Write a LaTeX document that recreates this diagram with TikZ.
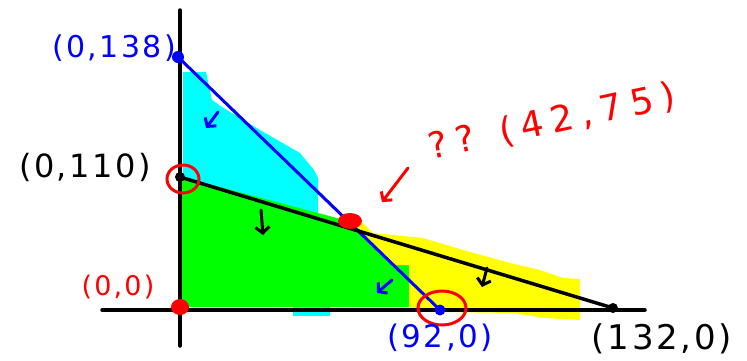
\documentclass[tikz,border=0pt]{standalone}
\usepackage{fontspec}
\newfontfamily\hand[LetterSpace=8]{DejaVu Sans}
\usetikzlibrary{arrows.meta}
\definecolor{fillcyan}{RGB}{0,255,255}
\definecolor{fillgreen}{RGB}{0,255,0}
\definecolor{fillyellow}{RGB}{255,255,0}
\definecolor{inkblue}{RGB}{0,0,255}
\definecolor{inkred}{RGB}{255,0,0}

\begin{document}
\begin{tikzpicture}[x=1pt, y=-1pt,
	ink/.style={line width=3pt, line cap=round},
	barb/.style={ink, -{Straight Barb[length=6pt, width=14pt]}},
	hw/.style={inner sep=0pt, font=\hand\fontsize{#1}{#1}\selectfont}]
	\useasboundingbox (0,0) rectangle (747,360);

	% --- Points ---
	\coordinate (ytop) at (180,10);
	\coordinate (ybot) at (180,346);
	\coordinate (xleft) at (102,310);
	\coordinate (xright) at (645,310);
	\coordinate (p138) at (178,57);
	\coordinate (p110) at (180,177);
	\coordinate (p0) at (180,307);
	\coordinate (pcut) at (350,221);
	\coordinate (p92) at (440,310);
	\coordinate (p132) at (613,308);

	% --- Shaded regions ---
	% cyan (blue constraint)
	\fill[fillcyan] (183,72) -- (206,72) -- (212,100) -- (222,107) -- (260,130) -- (300,153)
		-- (314,170) -- (318,178) -- (318,215) -- (183,178) -- cycle;
	\fill[fillcyan] (293,304) rectangle (409,307);
	\fill[fillcyan] (293,307) rectangle (330,316);
	% green (both constraints)
	\fill[fillgreen] (182,177) -- (352,222) -- (395,265) -- (409,265) -- (409,307) -- (182,307) -- cycle;
	% yellow (black constraint)
	\fill[fillyellow] (352,221) -- (362,222) -- (373,233) -- (423,238) -- (463,250) -- (510,263)
		-- (540,270) -- (563,278) -- (580,279) -- (580,320) -- (545,318) -- (512,313)
		-- (440,312) -- (409,307) -- (409,265) -- (395,265) -- cycle;

	% --- Axes ---
	\draw[ink, line width=3.5pt] (ytop) -- (ybot);
	\draw[ink, line width=3.5pt] (xleft) -- (xright);

	% --- Constraint lines ---
	\draw[ink, inkblue] (p138) -- (p92);
	\draw[ink, line width=3.5pt] (p110) -- (p132);

	% --- Direction arrows ---
	\draw[barb, inkblue] (218,112) -- (206,128);
	\draw[barb] (261,210) -- (263,235);
	\draw[barb, inkblue] (392,280) -- (377,293);
	\draw[barb] (487,268) -- (482,287);

	% --- Points and marks ---
	\fill[inkblue] (p138) circle (6);
	\fill (p110) circle (5);
	\draw[inkred, line width=3pt] (183,179) ellipse (16 and 14);
	\fill[inkred] (p0) ellipse (9 and 8);
	\fill[inkred] (pcut) ellipse (12 and 8);
	\fill[inkblue] (p92) circle (5.5);
	\draw[inkred, line width=3pt] (442,308) ellipse (24 and 17);
	\fill (p132) circle (5);

	% --- Labels ---
	\node[hw=30, text=inkblue] (l138) at (114,48) {(0,138)};
	\node[hw=32] (l110) at (85,167) {(0,110)};
	\node[hw=27, text=inkred] (l0) at (118,287) {(0,0)};
	\node[hw=31, text=inkblue] (l92) at (440,338) {(92,0)};
	\node[hw=34, anchor=north] (l132) at (662,323) {(132,0)};
	\node[hw=36, text=inkred, rotate=12] (lcut) at (552,122) {\addfontfeature{LetterSpace=22}?? (42,75)};

	% pointer to the crossing
	\coordinate (qtail) at (408,168);
	\coordinate (qhead) at (382,202);
	\draw[barb, inkred] (qtail) -- (qhead);
\end{tikzpicture}
\end{document}
